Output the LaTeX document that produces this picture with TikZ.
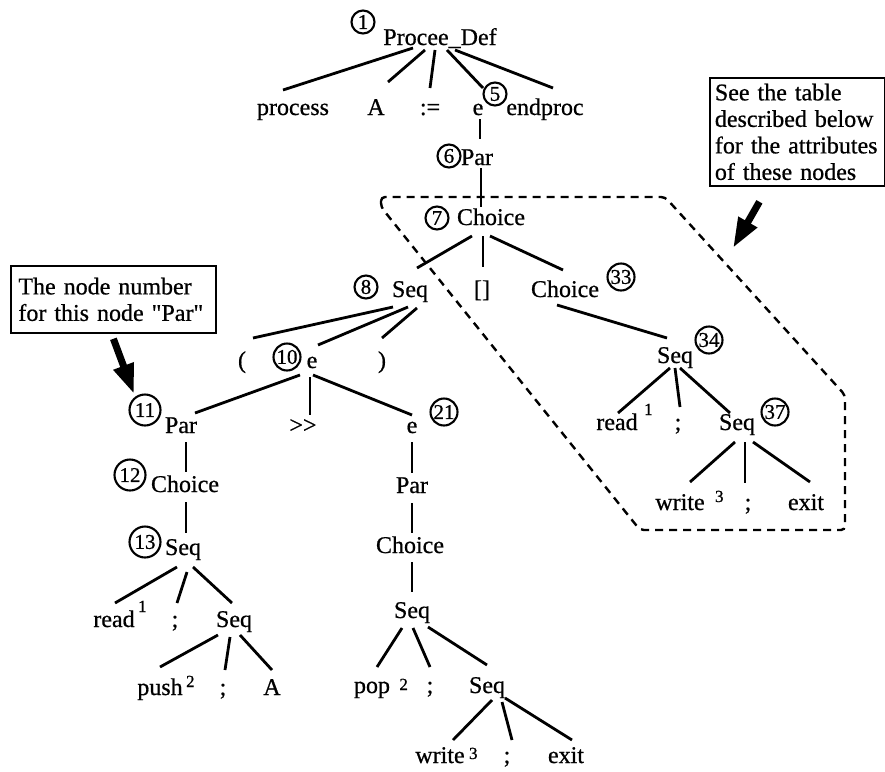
\documentclass[tikz,border=0pt]{standalone}
\usepackage{fontspec}
\setmainfont{Liberation Serif}[Ligatures=TeXOff, FakeBold=0.7]
\usetikzlibrary{calc,arrows.meta}
\newcommand\treeedge[4]{\draw[edge] ($(#1.base)+(#2)$) -- ($(#3.base)+(#4)$);}
\begin{document}
\begin{tikzpicture}[x=1pt,y=-1pt,
  lbl/.style={font=\fontsize{24}{26}\selectfont, inner sep=0pt, text height=16pt, text depth=5pt, anchor=base},
  cn/.style={circle, draw, line width=2.1pt, inner sep=0pt, minimum size=23pt, font=\fontsize{21}{21}\selectfont},
  twoc/.style={minimum size=27pt},
  bigc/.style={minimum size=31pt},
  supx/.style={font=\fontsize{17}{17}\selectfont, inner sep=0pt, anchor=base west},
  edge/.style={line width=2.8pt},
  boxnote/.style={draw, line width=1.8pt, align=left, font=\fontsize{24}{26.5}\selectfont, anchor=north west},
  dashreg/.style={line width=2.4pt, dash pattern=on 8pt off 6pt},
  bigarrow/.style={line width=7pt, -{Triangle[length=30pt,width=20pt]}}]
\useasboundingbox (0,0) rectangle (885,771);

% top
\node[cn] (c1) at (363,22) {1};
\node[lbl] (PD) at (440,45) {Procee\_Def};
\node[lbl] (proc) at (293,115) {process};
\node[lbl] (A1) at (376,115) {A};
\node[lbl] (asg) at (430,115) {:=};
\node[lbl] (e5) at (478,115) {e};
\node[lbl] (endp) at (545,115) {endproc};
\node[cn] (c5) at (495,94) {5};
\node[cn] (c6) at (449,156) {6};
\node[lbl] (par6) at (477,165) {Par};
\node[cn] (c7) at (437,218) {7};
\node[lbl] (ch7) at (491,225) {Choice};
\node[cn] (c8) at (366,287) {8};
\node[lbl] (seq8) at (410,297) {Seq};
\node[lbl] (alt) at (482,297) {[]};
\node[lbl] (ch33) at (565,297) {Choice};
\node[cn,twoc] (c33) at (621,277) {33};

% middle left
\node[lbl] (lp) at (242,368) {(};
\node[cn,twoc] (c10) at (287,357) {10};
\node[lbl] (e10) at (312,368) {e};
\node[lbl] (rp) at (382,368) {)};
\node[cn,bigc] (c11) at (145,410) {11};
\node[lbl] (par11) at (181,433) {Par};
\node[lbl] (gg) at (303,433) {>>};
\node[lbl] (e21) at (412,433) {e};
\node[cn,twoc] (c21) at (444,412) {21};
\node[cn,bigc] (c12) at (130,475) {12};
\node[lbl] (ch12) at (185,492) {Choice};
\node[cn,bigc] (c13) at (145,542) {13};
\node[lbl] (seq13) at (183,555) {Seq};
\node[lbl] (read13) at (114,627) {read};
\node[supx] (s13a) at ($(read13.base east)+(3,-15)$) {1};
\node[lbl] (semi13) at (175,627) {;};
\node[lbl] (seq13b) at (234,627) {Seq};
\node[lbl] (push) at (160,695) {push};
\node[supx] (s13b) at ($(push.base east)+(3,-8)$) {2};
\node[lbl] (semi13b) at (223,695) {;};
\node[lbl] (A2) at (272,695) {A};

% middle right
\node[lbl] (par21) at (412,493) {Par};
\node[lbl] (ch21) at (410,553) {Choice};
\node[lbl] (seq21) at (412,618) {Seq};
\node[lbl] (pop) at (372,693) {pop};
\node[supx] (s21a) at ($(pop.base east)+(9,-3)$) {2};
\node[lbl] (semi21) at (430,693) {;};
\node[lbl] (seq21b) at (487,693) {Seq};
\node[lbl] (write21) at (440,763) {write};
\node[supx] (s21b) at ($(write21.base east)+(4,-4)$) {3};
\node[lbl] (semi21b) at (507,763) {;};
\node[lbl] (exit21) at (566,763) {exit};

% right subtree
\node[lbl] (seq34) at (675,363) {Seq};
\node[cn,twoc] (c34) at (709,340) {34};
\node[lbl] (read34) at (617,430) {read};
\node[supx] (s34) at ($(read34.base east)+(6,-15)$) {1};
\node[lbl] (semi34) at (678,430) {;};
\node[lbl] (seq37) at (737,430) {Seq};
\node[cn,twoc] (c37) at (775,412) {37};
\node[lbl] (write37) at (680,510) {write};
\node[supx] (s37) at ($(write37.base east)+(10,-8)$) {3};
\node[lbl] (semi37) at (748,510) {;};
\node[lbl] (exit37) at (806,510) {exit};

% notes
\node[boxnote, minimum width=205pt, minimum height=67pt, text width=190pt, inner xsep=7.5pt] (nbox) at (10,265) {The node number\\for this node "Par"};
\node[boxnote, minimum width=175pt, minimum height=108pt, text width=165pt, inner xsep=5pt] (tbox) at (709,77) {See the table\\described below\\for the attributes\\of these nodes};

% edges
\treeedge{PD}{-27,3}{proc}{-10,-25}
\treeedge{PD}{-15,5}{A1}{12,-33}
\treeedge{PD}{-5,5}{asg}{0,-27}
\treeedge{PD}{7,5}{e5}{5,-27}
\treeedge{PD}{15,5}{endp}{8,-27}
\treeedge{e5}{2,4}{par6}{3,-26}
\treeedge{par6}{4,3}{ch7}{-10,-18}
\treeedge{ch7}{-19,11}{seq8}{7,-29}
\treeedge{ch7}{-8,11}{alt}{1,-30}
\treeedge{ch7}{-1,11}{ch33}{-2,-27}
\treeedge{seq8}{-17,10}{lp}{11,-30}
\treeedge{seq8}{-2,10}{e10}{6,-23}
\treeedge{seq8}{7,11}{rp}{0,-30}
\treeedge{e10}{-12,7}{par11}{14,-20}
\treeedge{e10}{-2,9}{gg}{7,-18}
\treeedge{e10}{1,7}{e21}{0,-18}
\treeedge{par11}{5,9}{ch12}{1,-20}
\treeedge{ch12}{1,10}{seq13}{3,-22}
\treeedge{seq13}{-6,12}{read13}{1,-24}
\treeedge{seq13}{4,17}{semi13}{2,-24}
\treeedge{seq13}{10,12}{seq13b}{-2,-24}
\treeedge{seq13b}{-16,8}{push}{0,-28}
\treeedge{seq13b}{-4,10}{semi13b}{2,-25}
\treeedge{seq13b}{6,8}{A2}{0,-25}
\treeedge{e21}{0,9}{par21}{0,-20}
\treeedge{par21}{0,10}{ch21}{2,-20}
\treeedge{ch21}{2,9}{seq21}{0,-26}
\treeedge{seq21}{-10,10}{pop}{5,-26}
\treeedge{seq21}{1,10}{semi21}{0,-26}
\treeedge{seq21}{16,9}{seq21b}{0,-28}
\treeedge{seq21b}{5,7}{write21}{13,-23}
\treeedge{seq21b}{15,9}{semi21b}{5,-23}
\treeedge{seq21b}{18,5}{exit21}{6,-23}
\treeedge{ch33}{-8,8}{seq34}{-8,-25}
\treeedge{seq34}{-5,5}{read34}{1,-17}
\treeedge{seq34}{0,5}{semi34}{2,-23}
\treeedge{seq34}{5,5}{seq37}{-7,-17}
\treeedge{seq37}{-2,12}{write37}{10,-28}
\treeedge{seq37}{8,12}{semi37}{-3,-27}
\treeedge{seq37}{16,12}{exit37}{4,-28}

% dashed region
\draw[dashreg, rounded corners=4pt] (381,197) -- (381,207) -- (640,530) -- (845,530) -- (845,395) -- (665,197) -- cycle;

% pointer arrows
\coordinate (tipB) at (733,248);
\draw[bigarrow] ($(nbox.south)+(0,5)$) -- ($(c11)+(-11,-16)$);
\draw[bigarrow] ($(tbox.south)+(-38,15)$) -- (tipB);
\end{tikzpicture}
\end{document}
